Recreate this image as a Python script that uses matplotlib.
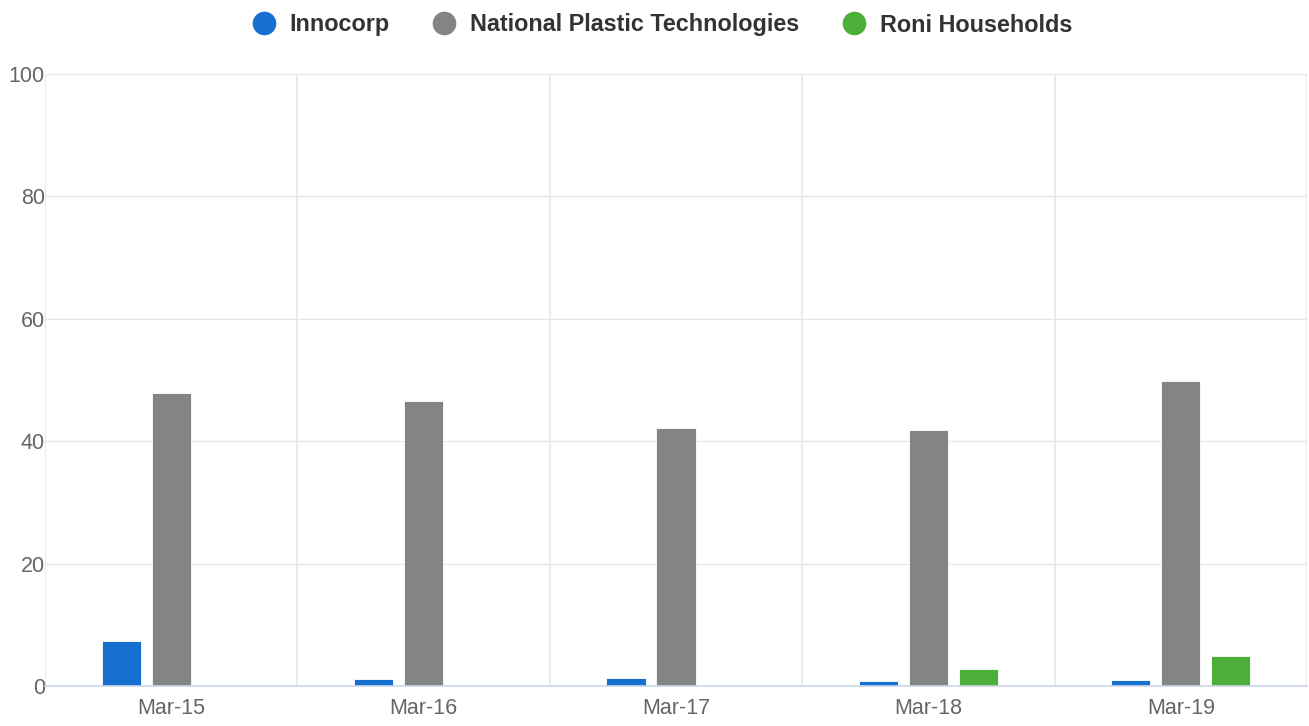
import matplotlib
matplotlib.use("Agg")
import matplotlib.pyplot as plt
from matplotlib.lines import Line2D
import numpy as np

plt.rcParams['font.family'] = ['Liberation Sans', 'DejaVu Sans']

categories = ["Mar-15", "Mar-16", "Mar-17", "Mar-18", "Mar-19"]
series_names = ["Innocorp", "National Plastic Technologies", "Roni Households"]
innocorp = [7.3, 1.1, 1.3, 0.75, 1.0]
npt = [47.9, 46.6, 42.1, 41.9, 49.8]
roni = [0.0, 0.0, 0.0, 2.8, 4.9]
colors = ["#1570d0", "#848484", "#4caf3a"]
yticks = [0, 20, 40, 60, 80, 100]

fig = plt.figure(figsize=(13.09, 7.26), dpi=100)
ax = fig.add_axes([45/1309, 40/726, 1262/1309, 612/726])

x = np.arange(len(categories))
width = 0.155
offset = 0.198
for i, (vals, c) in enumerate(zip([innocorp, npt, roni], colors)):
    ax.bar(x + (i - 1) * offset, vals, width=width, color=c,
           edgecolor="white", linewidth=0.6, zorder=3)

ax.set_xlim(-0.5, len(categories) - 0.5)
ax.set_ylim(0, 100)
ax.set_yticks(yticks)
ax.set_yticklabels([str(t) for t in yticks])
ax.set_xticks(x)
ax.set_xticklabels(categories)
ax.tick_params(axis='both', length=0, labelsize=15.5, labelcolor="#666666")
ax.tick_params(axis='y', pad=0)
ax.tick_params(axis='x', pad=9)

ax.grid(axis='y', color="#e6e6e6", linewidth=1, zorder=0)
for b in np.arange(-0.5, len(categories), 1.0):
    ax.axvline(b, color="#e6e6e6", linewidth=1.2, zorder=0)

for s in ["top", "right", "left"]:
    ax.spines[s].set_visible(False)
ax.spines["bottom"].set_color("#ccd6eb")
ax.spines["bottom"].set_linewidth(1.2)
ax.spines["bottom"].set_zorder(4)

handles = [Line2D([0], [0], marker='o', linestyle='', markersize=16,
                  markerfacecolor=c, markeredgecolor=c) for c in colors]
leg = fig.legend(handles, series_names, loc='center', bbox_to_anchor=(661/1309, 1 - 25/726),
                 ncol=3, frameon=False, handletextpad=0.5, columnspacing=1.75,
                 handlelength=1.2, prop={'weight': 'bold', 'size': 16.8})
for t in leg.get_texts():
    t.set_color("#333333")

fig.savefig("out.png", dpi=100)
